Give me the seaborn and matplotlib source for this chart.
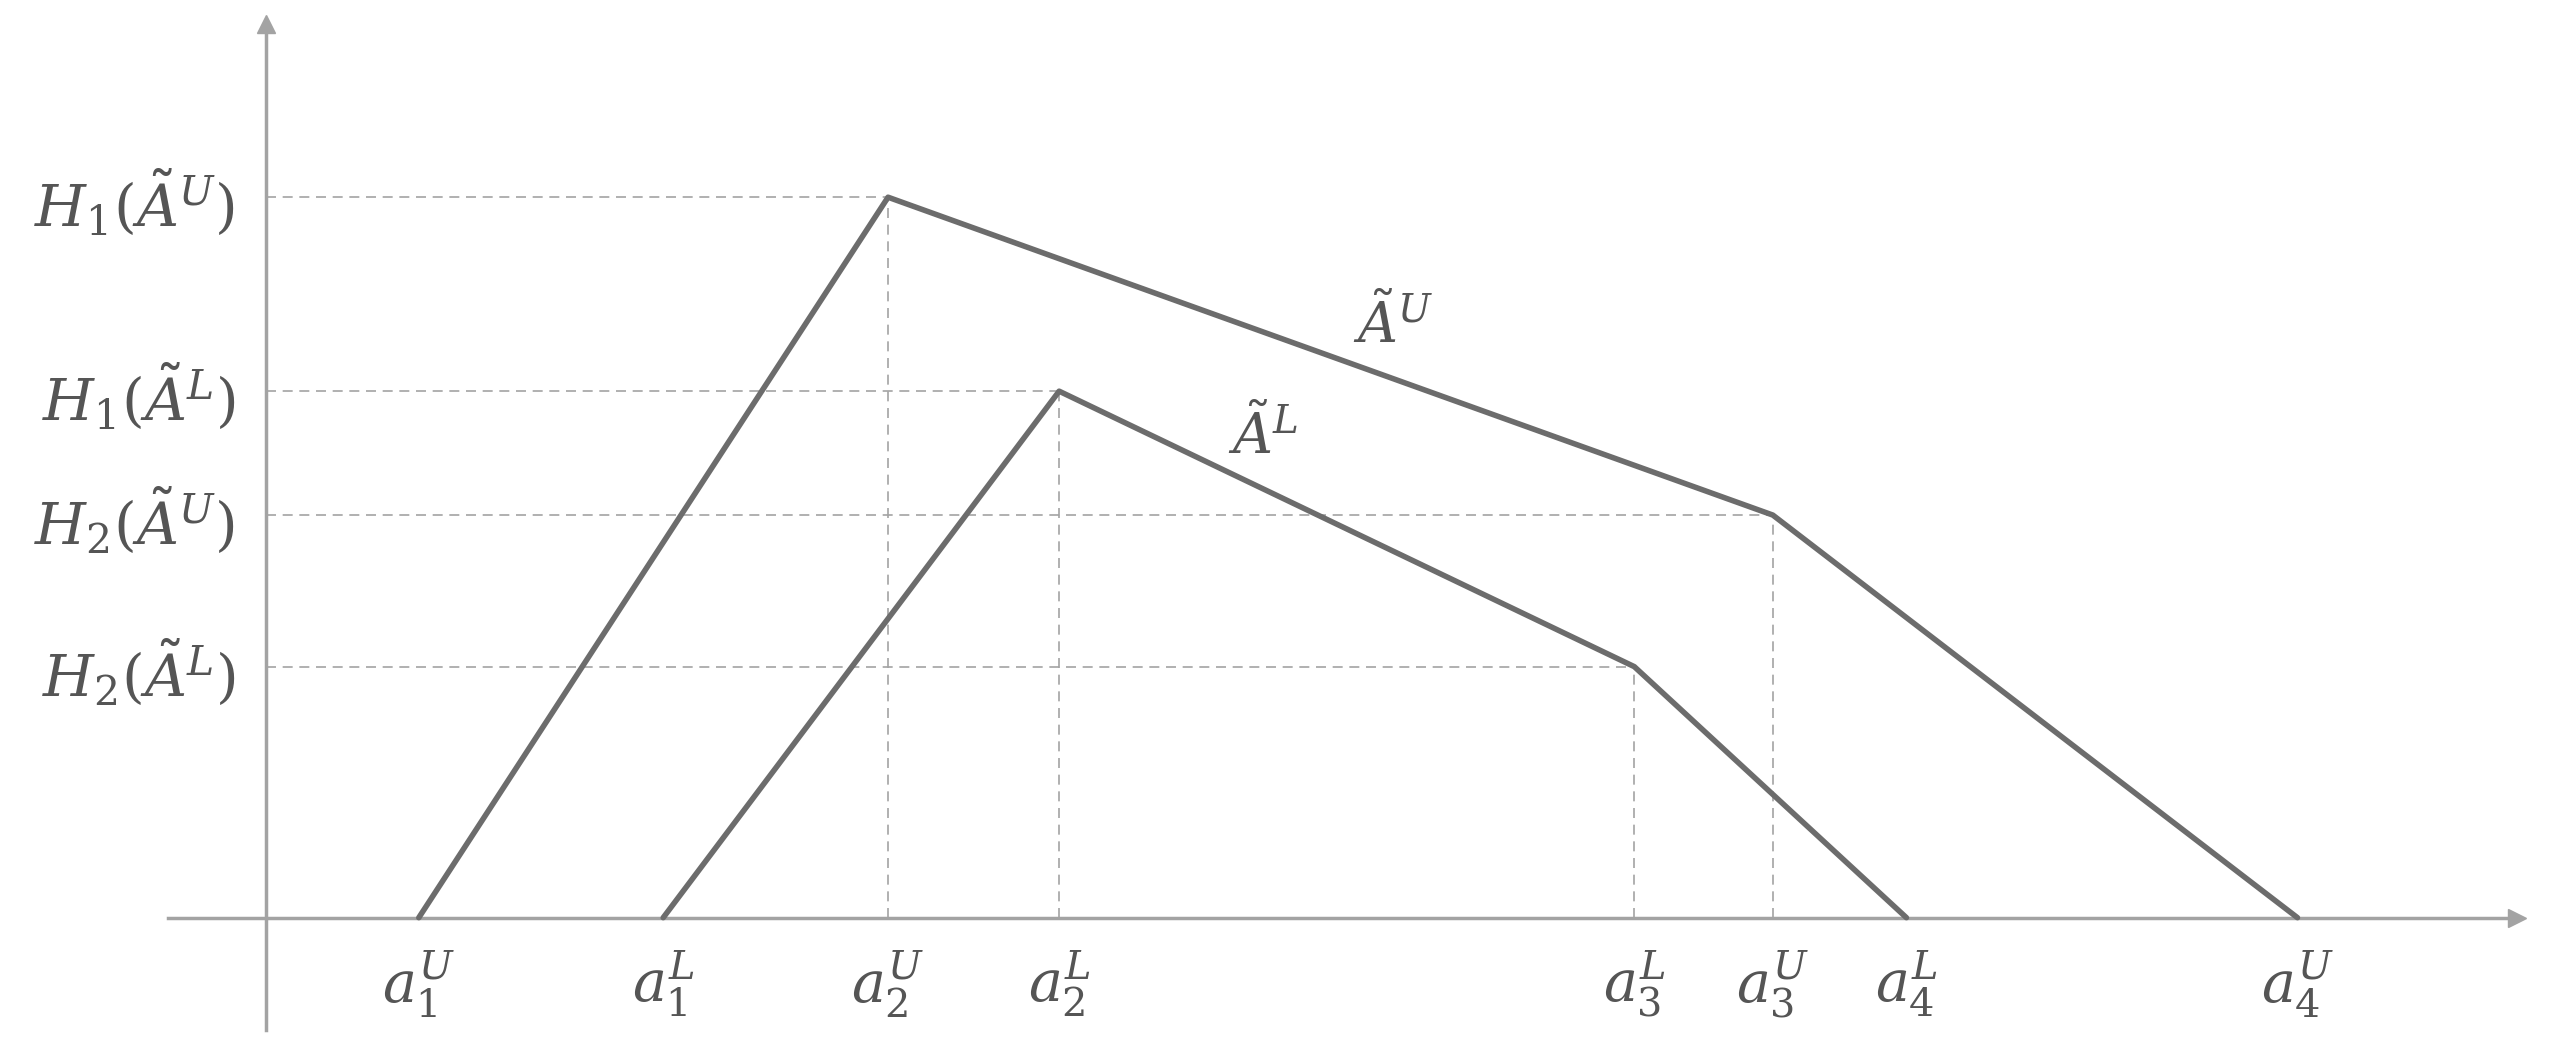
import matplotlib
matplotlib.use("Agg")
import matplotlib.pyplot as plt
import seaborn as sns
import pandas as pd

# corner points of the two trapezoids (upper and lower)
upper_x = [0.94, 3.82, 9.25, 12.47]
upper_y = [0.0, 4.42, 2.47, 0.0]
lower_x = [2.44, 4.87, 8.40, 10.07]
lower_y = [0.0, 3.23, 1.54, 0.0]

x_ticks = [0.94, 2.44, 3.82, 4.87, 8.40, 9.25, 10.07, 12.47]
x_labels = [r"$a_1^U$", r"$a_1^L$", r"$a_2^U$", r"$a_2^L$",
            r"$a_3^L$", r"$a_3^U$", r"$a_4^L$", r"$a_4^U$"]
y_ticks = [4.42, 3.23, 2.47, 1.54]
y_labels = [r"$H_1\left(\tilde{A}^U\right)$", r"$H_1\left(\tilde{A}^L\right)$",
            r"$H_2\left(\tilde{A}^U\right)$", r"$H_2\left(\tilde{A}^L\right)$"]

sns.set_theme(style="white")
plt.rcParams["mathtext.fontset"] = "dejavuserif"

df = pd.concat([
    pd.DataFrame({"x": upper_x, "y": upper_y, "set": "U"}),
    pd.DataFrame({"x": lower_x, "y": lower_y, "set": "L"}),
])

fig = plt.figure(figsize=(25.55, 10.53), dpi=100)
ax = fig.add_axes([0.0657, 0.0217, 0.9196, 0.9551])

line_c = "#6c6c6c"
axis_c = "#a3a3a3"
text_c = "#555555"

# dashed guide lines
for x, y in zip(upper_x[1:3] + lower_x[1:3], upper_y[1:3] + lower_y[1:3]):
    ax.hlines(y, 0, x, colors=axis_c, linestyles=(0, (6, 4)), linewidth=1.2)
    ax.vlines(x, 0, y, colors=axis_c, linestyles=(0, (6, 4)), linewidth=1.2)

sns.lineplot(data=df, x="x", y="y", units="set", estimator=None, sort=False,
             color=line_c, linewidth=4, ax=ax, legend=False)

ax.set_xlim(-0.60, 13.82)
ax.set_ylim(-0.69, 5.48)

for side in ["top", "right"]:
    ax.spines[side].set_visible(False)
ax.spines["left"].set_position(("data", 0))
ax.spines["bottom"].set_position(("data", 0))
for side in ["left", "bottom"]:
    ax.spines[side].set_color(axis_c)
    ax.spines[side].set_linewidth(2.5)
    ax.spines[side].set_zorder(1)

# arrow heads
ax.plot(1, 0, ">", color=axis_c, markersize=13, transform=ax.get_yaxis_transform(), clip_on=False)
ax.plot(0, 1, "^", color=axis_c, markersize=13, transform=ax.get_xaxis_transform(), clip_on=False)

ax.set_xticks(x_ticks)
ax.set_xticklabels(x_labels)
ax.set_yticks(y_ticks)
ax.set_yticklabels(y_labels)
ax.tick_params(axis="x", length=0, pad=22, labelsize=41, labelcolor=text_c)
ax.tick_params(axis="y", length=0, pad=22, labelsize=42, labelcolor=text_c)
ax.set_xlabel("")
ax.set_ylabel("")

ax.text(6.92, 3.63, r"$\tilde{A}^U$", fontsize=40, color=text_c, ha="center", va="center")
ax.text(6.12, 2.95, r"$\tilde{A}^L$", fontsize=40, color=text_c, ha="center", va="center")

fig.savefig("out.png", dpi=100, facecolor="white")
